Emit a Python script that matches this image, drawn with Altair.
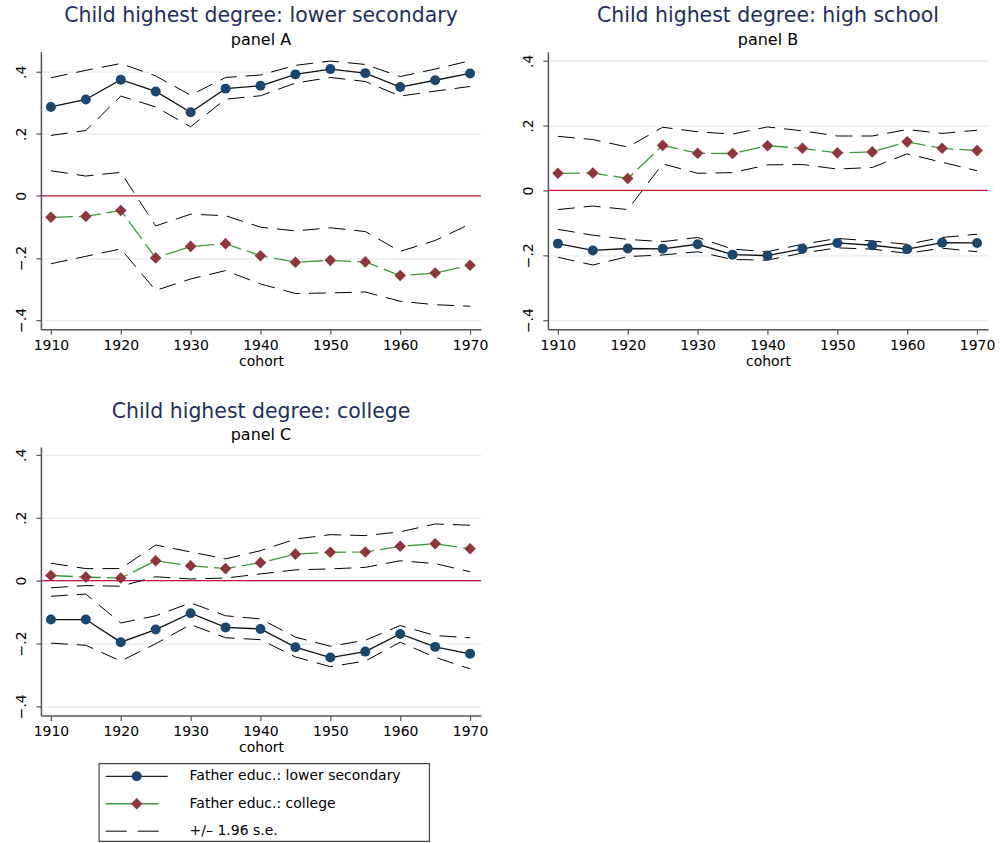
import altair as alt
import pandas as pd

FONT = "DejaVu Sans"
NAVY = "#1a476f"
MAROON = "#90353b"
GREEN = "#3a9a3a"
ZERO_RED = "#c8163f"
TITLE_BLUE = "#1e2f5c"

cohort = [1910, 1915, 1920, 1925, 1930, 1935, 1940, 1945, 1950, 1955, 1960, 1965, 1970]

# Panel A: child highest degree = lower secondary
a_ls = [0.287, 0.311, 0.375, 0.337, 0.270, 0.346, 0.355, 0.392, 0.409, 0.396, 0.351, 0.373, 0.395]
a_ls_hi = [0.381, 0.405, 0.427, 0.387, 0.325, 0.382, 0.390, 0.421, 0.435, 0.424, 0.385, 0.409, 0.436]
a_ls_lo = [0.195, 0.211, 0.322, 0.287, 0.223, 0.312, 0.323, 0.364, 0.382, 0.369, 0.322, 0.338, 0.353]
a_co = [-0.069, -0.066, -0.047, -0.200, -0.163, -0.154, -0.193, -0.214, -0.208, -0.213, -0.257, -0.249, -0.224]
a_co_hi = [0.081, 0.064, 0.076, -0.097, -0.059, -0.064, -0.101, -0.113, -0.103, -0.115, -0.179, -0.144, -0.091]
a_co_lo = [-0.219, -0.195, -0.171, -0.305, -0.268, -0.241, -0.284, -0.315, -0.313, -0.310, -0.340, -0.351, -0.356]

# Panel B: child highest degree = high school
b_ls = [-0.164, -0.185, -0.179, -0.180, -0.166, -0.198, -0.201, -0.180, -0.162, -0.169, -0.181, -0.161, -0.162]
b_ls_hi = [-0.120, -0.138, -0.151, -0.158, -0.145, -0.181, -0.189, -0.166, -0.148, -0.156, -0.166, -0.145, -0.135]
b_ls_lo = [-0.206, -0.230, -0.204, -0.199, -0.189, -0.213, -0.215, -0.193, -0.177, -0.181, -0.194, -0.178, -0.189]
b_co = [0.053, 0.054, 0.037, 0.139, 0.115, 0.114, 0.138, 0.130, 0.116, 0.119, 0.150, 0.130, 0.123]
b_co_hi = [0.167, 0.157, 0.134, 0.195, 0.181, 0.174, 0.196, 0.184, 0.168, 0.168, 0.188, 0.176, 0.186]
b_co_lo = [-0.059, -0.048, -0.059, 0.082, 0.053, 0.055, 0.079, 0.080, 0.066, 0.071, 0.113, 0.087, 0.061]

# Panel C: child highest degree = college
c_ls = [-0.124, -0.124, -0.196, -0.156, -0.104, -0.149, -0.154, -0.212, -0.245, -0.226, -0.170, -0.211, -0.233]
c_ls_hi = [-0.050, -0.043, -0.135, -0.112, -0.071, -0.112, -0.122, -0.180, -0.209, -0.190, -0.143, -0.175, -0.182]
c_ls_lo = [-0.199, -0.206, -0.256, -0.201, -0.140, -0.182, -0.188, -0.243, -0.274, -0.256, -0.196, -0.244, -0.281]
c_co = [0.016, 0.011, 0.008, 0.063, 0.047, 0.038, 0.057, 0.084, 0.090, 0.091, 0.109, 0.117, 0.101]
c_co_hi = [0.055, 0.038, 0.038, 0.113, 0.091, 0.069, 0.095, 0.132, 0.146, 0.143, 0.155, 0.180, 0.176]
c_co_lo = [-0.023, -0.016, -0.018, 0.012, 0.005, 0.008, 0.021, 0.034, 0.037, 0.042, 0.063, 0.054, 0.028]

legend_labels = ["Father educ.: lower secondary", "Father educ.: college", "+/\u2013 1.96 s.e."]

x_ticks = [1910, 1920, 1930, 1940, 1950, 1960, 1970]
y_ticks = [-0.4, -0.2, 0, 0.2, 0.4]
X_DOMAIN = [1908.57, 1971.57]
DASH = [17, 9]


def panel(ls, ls_hi, ls_lo, co, co_hi, co_lo, title, sub, ydom, height):
    d_ls = pd.DataFrame({"cohort": cohort, "est": ls, "hi": ls_hi, "lo": ls_lo})
    d_co = pd.DataFrame({"cohort": cohort, "est": co, "hi": co_hi, "lo": co_lo})
    d_zero = pd.DataFrame({"v": [0.0]})

    x_axis = alt.Axis(values=x_ticks, format="d", title="cohort", grid=False,
                      tickSize=5, labelPadding=4, titlePadding=2)
    y_axis = alt.Axis(values=y_ticks, title=None, grid=True, gridColor="#e6eef0",
                      gridWidth=1.2, tickSize=5, labelAngle=270, labelPadding=7,
                      labelExpr="datum.value == 0 ? '0' : replace(format(datum.value, '.1f'), '0.', '.')")
    x = alt.X("cohort:Q", scale=alt.Scale(domain=X_DOMAIN, nice=False, zero=False), axis=x_axis)
    ysc = alt.Scale(domain=ydom, nice=False, zero=False)

    def y(field):
        return alt.Y(f"{field}:Q", scale=ysc, axis=y_axis)

    zero = alt.Chart(d_zero).mark_rule(color=ZERO_RED, strokeWidth=1.3).encode(y=y("v"))
    layers = [zero]
    for d in (d_ls, d_co):
        base = alt.Chart(d).encode(x=x)
        layers.append(base.mark_line(color="black", strokeWidth=1, strokeDash=DASH).encode(y=y("hi")))
        layers.append(base.mark_line(color="black", strokeWidth=1, strokeDash=DASH).encode(y=y("lo")))
    ls_base = alt.Chart(d_ls).encode(x=x, y=y("est"))
    co_base = alt.Chart(d_co).encode(x=x, y=y("est"))
    layers.append(ls_base.mark_line(color="#111111", strokeWidth=1.3))
    layers.append(co_base.mark_line(color=GREEN, strokeWidth=1.3, strokeDash=[22, 6]))
    layers.append(ls_base.mark_circle(color=NAVY, size=100, opacity=1))
    layers.append(co_base.mark_point(shape="diamond", filled=True, color=MAROON, size=135, opacity=1))

    return alt.layer(*layers).properties(
        width=441,
        height=height,
        title=alt.TitleParams(
            text=title, subtitle=sub, font=FONT, fontSize=20.5, fontWeight="normal",
            color=TITLE_BLUE, subtitleFont=FONT, subtitleFontSize=16, subtitleColor="black",
            subtitlePadding=5, anchor="middle", frame="group", offset=4,
        ),
    )


pa = panel(a_ls, a_ls_hi, a_ls_lo, a_co, a_co_hi, a_co_lo,
           "Child highest degree: lower secondary", "panel A", [-0.43, 0.465], 278)
pb = panel(b_ls, b_ls_hi, b_ls_lo, b_co, b_co_hi, b_co_lo,
           "Child highest degree: high school", "panel B", [-0.428, 0.428], 278)
pc = panel(c_ls, c_ls_hi, c_ls_lo, c_co, c_co_hi, c_co_lo,
           "Child highest degree: college", "panel C", [-0.429, 0.425], 269)

# Legend drawn as its own small boxed view
leg_df = pd.DataFrame({"row": [0, 1, 2], "label": legend_labels})
ly = alt.Y("row:O", scale=alt.Scale(type="point", range=[13, 68], padding=0), axis=None)
lb = alt.Chart(leg_df).encode(y=ly)
legend = alt.layer(
    lb.transform_filter("datum.row == 0").mark_rule(color="#222222", strokeWidth=1.3)
      .encode(x=alt.value(7), x2=alt.value(69)),
    lb.transform_filter("datum.row == 0").mark_circle(color=NAVY, size=100, opacity=1)
      .encode(x=alt.value(38)),
    lb.transform_filter("datum.row == 1").mark_rule(color=GREEN, strokeWidth=1.3)
      .encode(x=alt.value(7), x2=alt.value(60)),
    lb.transform_filter("datum.row == 1").mark_point(shape="diamond", filled=True, color=MAROON,
                                                     size=135, opacity=1)
      .encode(x=alt.value(38)),
    lb.transform_filter("datum.row == 2").mark_rule(color="black", strokeWidth=1, strokeDash=[21, 11])
      .encode(x=alt.value(7), x2=alt.value(60)),
    lb.mark_text(align="left", baseline="middle", font=FONT, fontSize=14, color="black")
      .encode(x=alt.value(91), text="label:N"),
).properties(width=331, height=78, view=alt.ViewBackground(stroke="#444444", strokeWidth=1.2))

spacer = alt.Chart(leg_df).mark_point(opacity=0).encode(
    x=alt.value(0), y=alt.value(0)
).properties(width=57, height=78)

top = alt.hconcat(pa, pb, spacing=33)
bottom = alt.vconcat(pc, alt.hconcat(spacer, legend, spacing=0), spacing=6)

chart = alt.vconcat(top, bottom, spacing=33).properties(
    padding={"left": 14, "top": 5, "right": 5, "bottom": 0},
    background="white",
).configure_view(stroke=None).configure_axis(
    labelFont=FONT, titleFont=FONT, labelFontSize=14, titleFontSize=14,
    titleFontWeight="normal", labelColor="black", titleColor="black",
    domainColor="#555555", tickColor="#555555", domainWidth=1.5, tickWidth=1.2,
).configure_concat(spacing=0)

chart.save("out.html", embed_options={"renderer": "svg", "actions": False})
